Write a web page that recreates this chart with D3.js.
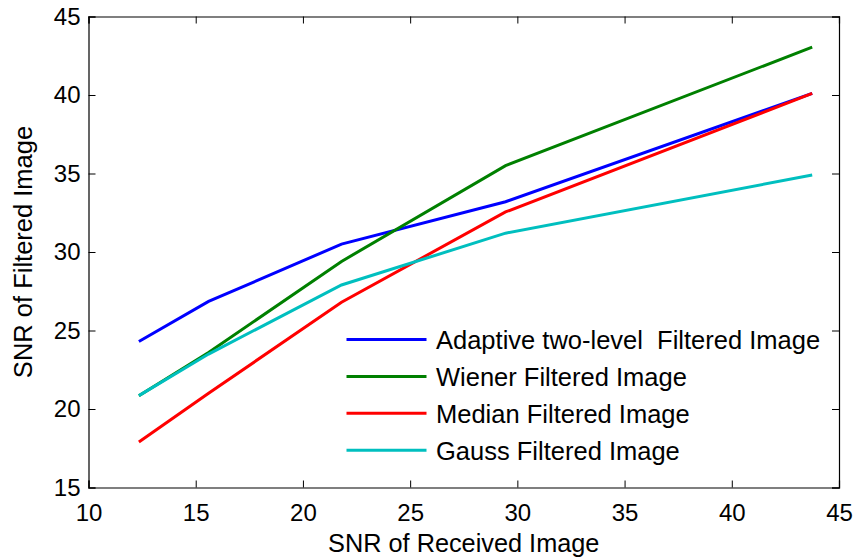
<!DOCTYPE html>
<html>
<head>
<meta charset="utf-8">
<script src="https://cdn.jsdelivr.net/npm/d3@7"></script>
<style>
  body { margin: 0; background: #fff; }
  text { font-family: "Liberation Sans", Arial, sans-serif; fill: #000; }
</style>
</head>
<body>
<div id="chart"></div>
<script>
// SNR values
const snrReceived = [12.35, 15.6, 21.8, 29.45, 43.75];
const adaptive = [24.3, 26.85, 30.5, 33.2, 40.1];
const wiener = [20.85, 23.6, 29.4, 35.5, 43.05];
const median = [17.9, 21.0, 26.8, 32.55, 40.1];
const gauss = [20.85, 23.5, 27.9, 31.2, 34.9];

const seriesNames = [
  "Adaptive two-level\u00a0 Filtered Image",
  "Wiener Filtered Image",
  "Median Filtered Image",
  "Gauss Filtered Image",
];
const seriesColors = ["#0000ff", "#008000", "#ff0000", "#00bfbf"];
const xTicks = [10, 15, 20, 25, 30, 35, 40, 45];
const yTicks = [15, 20, 25, 30, 35, 40, 45];

const width = 856;
const height = 559;
const margin = { top: 16.5, right: 17, bottom: 71.5, left: 88.5 };

const svg = d3
  .select("#chart")
  .append("svg")
  .attr("width", width)
  .attr("height", height);

const x = d3
  .scaleLinear()
  .domain([10, 45])
  .range([margin.left, width - margin.right]);

const y = d3
  .scaleLinear()
  .domain([15, 45])
  .range([height - margin.bottom, margin.top]);

const tickLen = 7;

// bottom axis (ticks inside)
svg
  .append("g")
  .attr("transform", `translate(0,${y(15)})`)
  .call(d3.axisBottom(x).tickValues(xTicks).tickSize(-tickLen).tickPadding(tickLen + 9));
// left axis
svg
  .append("g")
  .attr("transform", `translate(${x(10)},0)`)
  .call(d3.axisLeft(y).tickValues(yTicks).tickSize(-tickLen).tickPadding(8));
// top and right, ticks only
svg
  .append("g")
  .attr("transform", `translate(0,${y(45)})`)
  .call(d3.axisTop(x).tickValues(xTicks).tickSize(-tickLen).tickFormat(""));
svg
  .append("g")
  .attr("transform", `translate(${x(45)},0)`)
  .call(d3.axisRight(y).tickValues(yTicks).tickSize(-tickLen).tickFormat(""));

svg.selectAll(".domain").attr("stroke", "#000").attr("stroke-width", 1.2);
svg.selectAll(".tick line").attr("stroke", "#000");
svg
  .selectAll(".tick text")
  .attr("font-size", 24)
  .attr("font-family", '"Liberation Sans", Arial, sans-serif')
  .attr("fill", "#000");

// lines
const allSeries = [adaptive, wiener, median, gauss];
const line = d3
  .line()
  .x((d, i) => x(snrReceived[i]))
  .y((d) => y(d));

svg
  .append("g")
  .selectAll("path")
  .data(allSeries)
  .enter()
  .append("path")
  .attr("d", line)
  .attr("fill", "none")
  .attr("stroke", (d, i) => seriesColors[i])
  .attr("stroke-width", 3);

// legend
const legend = svg.append("g").attr("transform", "translate(346.5,339.5)");
const rows = legend
  .selectAll("g")
  .data(seriesNames)
  .enter()
  .append("g")
  .attr("transform", (d, i) => `translate(0,${i * 36.9})`);
rows
  .append("line")
  .attr("x1", 0)
  .attr("x2", 80)
  .attr("stroke", (d, i) => seriesColors[i])
  .attr("stroke-width", 3);
rows
  .append("text")
  .attr("x", 89.5)
  .attr("y", 9.5)
  .attr("font-size", 25.5)
  .text((d) => d);

// axis labels
svg
  .append("text")
  .attr("x", (x(10) + x(45)) / 2)
  .attr("y", 552)
  .attr("text-anchor", "middle")
  .attr("font-size", 25.3)
  .text("SNR of Received Image");

svg
  .append("text")
  .attr("transform", `translate(32,${(y(15) + y(45)) / 2}) rotate(-90)`)
  .attr("text-anchor", "middle")
  .attr("font-size", 25.5)
  .text("SNR of Filtered Image");
</script>
</body>
</html>
